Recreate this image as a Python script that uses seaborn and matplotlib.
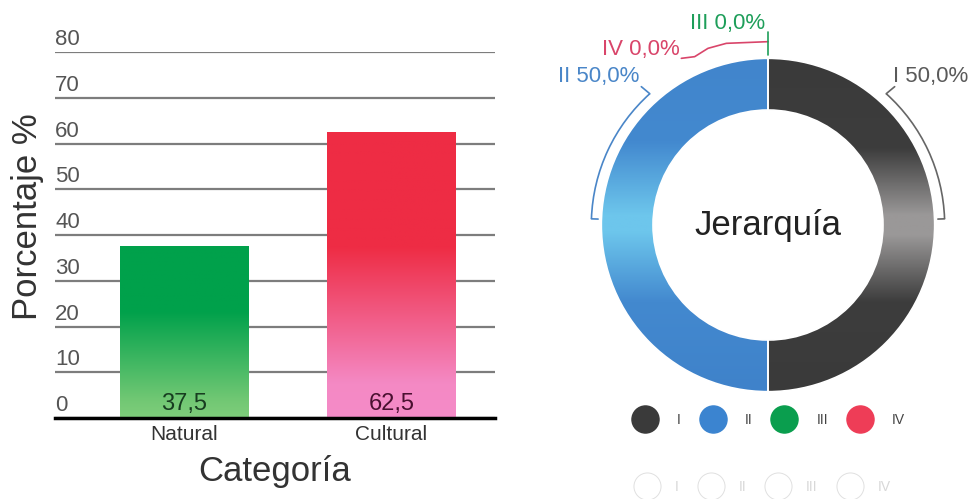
import numpy as np
import pandas as pd
import matplotlib
matplotlib.use('Agg')
import matplotlib.pyplot as plt
import matplotlib.transforms as mtransforms
import seaborn as sns
from matplotlib.colors import LinearSegmentedColormap
from matplotlib.patches import Arc
from matplotlib.lines import Line2D

# ---------------- data ----------------
categories = ['Natural', 'Cultural']
percentages = [37.5, 62.5]
value_labels = ['37,5', '62,5']
y_ticks = [0, 10, 20, 30, 40, 50, 60, 70, 80]

hierarchy = ['I', 'II', 'III', 'IV']
hier_pct = [50.0, 50.0, 0.0, 0.0]
hier_labels = ['I 50,0%', 'II 50,0%', 'III 0,0%', 'IV 0,0%']
hier_colors = ['#3a3a3a', '#3b84d0', '#0a9e4e', '#ee3d57']
hier_text_colors = ['#5a5a5a', '#4a86c8', '#1e9e5a', '#d9456a']

sns.set_theme(style='white')
plt.rcParams['font.family'] = ['Liberation Sans', 'DejaVu Sans']

fig = plt.figure(figsize=(9.71, 4.99), dpi=100)

# ---------------- bar chart ----------------
ax1 = fig.add_axes([55 / 971, 81 / 499, 440 / 971, 366 / 499])
df = pd.DataFrame({'cat': categories, 'pct': percentages})
sns.barplot(data=df, x='cat', y='pct', ax=ax1, width=0.62, color='white',
            saturation=1, errorbar=None)

bar_cmaps = [
    LinearSegmentedColormap.from_list('g', [(0, '#7fcd7b'), (0.1, '#72c874'),
                                            (0.62, '#00a14b'), (1, '#00a14b')]),
    LinearSegmentedColormap.from_list('p', [(0, '#f58bc8'), (0.12, '#f489c4'),
                                            (0.6, '#ee2c44'), (1, '#ee2c44')]),
]
grad = np.linspace(0, 1, 256).reshape(-1, 1)
for patch, cmap in zip(ax1.patches, bar_cmaps):
    x0 = patch.get_x(); w = patch.get_width(); h = patch.get_height()
    im = ax1.imshow(grad, extent=(x0, x0 + w, 0, h), origin='lower',
                    aspect='auto', cmap=cmap, zorder=2)
    im.set_clip_path(patch)
    patch.set_facecolor('none')
    patch.set_edgecolor('none')

ax1.set_xlim(-0.623, 1.5)
ax1.set_ylim(0, 80)
ax1.set_yticks(y_ticks)
ax1.yaxis.grid(True, color='#7d7d7d', lw=1.6)
ax1.set_axisbelow(True)
ax1.tick_params(axis='y', labelleft=False, length=0)
ax1.tick_params(axis='x', length=0, labelsize=15, labelcolor='#333333', pad=5)
trans = mtransforms.blended_transform_factory(ax1.transAxes, ax1.transData)
for v in y_ticks:
    ax1.text(0.0, v + 1.5, str(v), transform=trans, fontsize=16,
             color='#555555', ha='left', va='baseline')
for i, (lab, c) in enumerate(zip(value_labels, ['#173d20', '#4a1030'])):
    ax1.text(i, 1.7, lab, ha='center', va='baseline', fontsize=17, color=c, zorder=5)

for s in ['left', 'right', 'top']:
    ax1.spines[s].set_visible(False)
ax1.spines['bottom'].set_color('black')
ax1.spines['bottom'].set_linewidth(2.5)
ax1.set_xlabel('Categoría', fontsize=25, color='#333333', labelpad=8)
ax1.set_ylabel('Porcentaje %', fontsize=25, color='#333333')
ax1.yaxis.set_label_coords(-0.025, 0.55)

# ---------------- donut ----------------
ax2 = fig.add_axes([568 / 971, 74 / 499, 400 / 971, 400 / 499])
wedges, _ = ax2.pie(hier_pct, colors=hier_colors, startangle=90, counterclock=False,
                    radius=1.0, wedgeprops=dict(width=0.31, edgecolor='white', linewidth=1.2))
ax2.set_aspect('equal')
ax2.axis('off')

ygrad = np.linspace(0, 1, 256).reshape(-1, 1)
wedge_cmaps = [
    LinearSegmentedColormap.from_list('gI', [(0, '#3a3a3a'), (0.27, '#3d3d3d'), (0.47, '#9a9898'),
                                             (0.53, '#9a9898'), (0.73, '#3d3d3d'), (1, '#3a3a3a')]),
    LinearSegmentedColormap.from_list('bII', [(0, '#3f82ca'), (0.27, '#4389cf'), (0.48, '#6dc6ec'),
                                              (0.53, '#6dc6ec'), (0.75, '#4389cf'), (1, '#4185cc')]),
]
for wdg, cmap in zip(wedges[:2], wedge_cmaps):
    im = ax2.imshow(ygrad, extent=(-1, 1, -1, 1), origin='lower', aspect='auto',
                    cmap=cmap, zorder=1)
    im.set_clip_path(wdg)
    wdg.set_facecolor('none')
    wdg.set_zorder(2)
ax2.set_xlim(-1.2, 1.2)
ax2.set_ylim(-1.2, 1.2)

ax2.text(0, 0, 'Jerarquía', ha='center', va='center', fontsize=25, color='#222222')

# labels with brackets
lab_fs = 16
ax2.text(0.75, 0.89, hier_labels[0], ha='left', va='center', fontsize=lab_fs,
         color=hier_text_colors[0], clip_on=False)
ax2.text(-0.77, 0.89, hier_labels[1], ha='right', va='center', fontsize=lab_fs,
         color=hier_text_colors[1], clip_on=False)
ax2.text(-0.02, 1.21, hier_labels[2], ha='right', va='center', fontsize=lab_fs,
         color=hier_text_colors[2], clip_on=False)
ax2.text(-0.53, 1.05, hier_labels[3], ha='right', va='center', fontsize=lab_fs,
         color=hier_text_colors[3], clip_on=False)

r = 1.06
ax2.add_patch(Arc((0, 0), 2 * r, 2 * r, theta1=2, theta2=48, color='#666666', lw=1.2))
a = np.deg2rad(48)
ax2.plot([r * np.cos(a), 0.76], [r * np.sin(a), 0.83], color='#666666', lw=1.2, clip_on=False)
a = np.deg2rad(2)
ax2.plot([r * np.cos(a), 1.02 * np.cos(a)], [r * np.sin(a), 1.02 * np.sin(a)],
         color='#666666', lw=1.2)

ax2.add_patch(Arc((0, 0), 2 * r, 2 * r, theta1=132, theta2=178, color='#4a86c8', lw=1.2))
a = np.deg2rad(132)
ax2.plot([r * np.cos(a), -0.76], [r * np.sin(a), 0.83], color='#4a86c8', lw=1.2, clip_on=False)
a = np.deg2rad(178)
ax2.plot([r * np.cos(a), 1.02 * np.cos(a)], [r * np.sin(a), 1.02 * np.sin(a)],
         color='#4a86c8', lw=1.2)

ax2.plot([-0.52, -0.44, -0.36, -0.25, 0.0], [1.00, 1.01, 1.06, 1.09, 1.10],
         color='#d9456a', lw=1.2, clip_on=False)
ax2.plot([0, 0], [1.02, 1.16], color='#1e9e5a', lw=1.2, clip_on=False)

# legend
handles = [Line2D([], [], ls='none', marker='o', markersize=19.5, markerfacecolor=c,
                  markeredgecolor=c) for c in hier_colors]
fig.legend(handles, hierarchy, loc='center', bbox_to_anchor=(768 / 971, 79 / 499),
           ncol=4, frameon=False, fontsize=10, handlelength=2, handletextpad=1.3,
           columnspacing=1.3, labelcolor='#444444')
ghost = [Line2D([], [], ls='none', marker='o', markersize=19.5, markerfacecolor='none',
                markeredgecolor='#e0e0e0', markeredgewidth=0.7) for c in hier_colors]
fig.legend(ghost, hierarchy, loc='center', bbox_to_anchor=(762 / 971, 12 / 499),
           ncol=4, frameon=False, fontsize=10, handlelength=2, handletextpad=1.0,
           columnspacing=1.3, labelcolor='#d8d8d8')

fig.savefig('out.png', dpi=100)
